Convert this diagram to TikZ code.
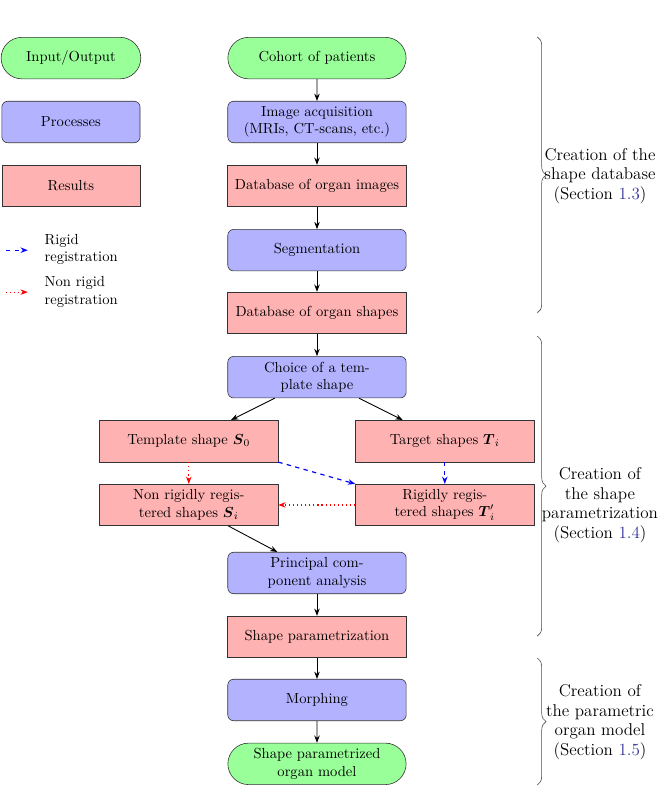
\documentclass[tikz,border=0pt]{standalone}
\usepackage{amsmath, amssymb}
\usepackage{xcolor}
\usepackage{tikz}
\usetikzlibrary{calc, shapes.misc, arrows.meta, decorations.pathreplacing}

\definecolor{seclink}{rgb}{0.2,0.2,0.6}

\begin{document}
\begin{tikzpicture}[
		iobox/.style = {rounded rectangle, draw=black!80, fill=green!40, minimum width=4.53cm, minimum height=1cm, align=center},
		procbox/.style = {rectangle, rounded corners=4pt, draw=black!80, fill=blue!30, minimum width=4.3cm, minimum height=1cm, align=center},
		resbox/.style = {rectangle, draw=black!80, fill=red!30, minimum width=4.3cm, minimum height=1cm, align=center},
		flow/.style = {-{Stealth[length=5pt]}, semithick},
		rigid/.style = {-{Stealth[length=5pt]}, thick, dashed, blue},
		nonrigid/.style = {-{Stealth[length=5pt]}, thick, dotted, red},
		bracket/.style = {decorate, decoration={brace, amplitude=6pt}, thin, black!70},
		sectxt/.style = {align=center, font=\fontsize{11.7}{13.4}\selectfont}
	]
			\def\xm{7.64};
			\def\xl{4.55};
			\def\xr{10.72};
			\def\xk{1.71};
			
			\useasboundingbox (0,0) rectangle (16,-19.04);
			
			% legend
			\node[iobox, minimum width=3.6cm] (leg-io) at (\xk,-1.40) {Input/Output};
			\node[procbox, minimum width=3.33cm] (leg-proc) at (\xk,-2.94) {Processes};
			\node[resbox, minimum width=3.33cm] (leg-res) at (\xk,-4.48) {Results};
			
			\coordinate (leg-r1) at (0.14,-6.03);
			\coordinate (leg-r2) at (0.67,-6.03);
			\draw[rigid] (leg-r1) -- (leg-r2);
			\node[anchor=west, align=left] (leg-rtxt) at (0.95,-6.01) {Rigid\\registration};
			
			\coordinate (leg-n1) at (0.14,-7.04);
			\coordinate (leg-n2) at (0.67,-7.04);
			\draw[nonrigid] (leg-n1) -- (leg-n2);
			\node[anchor=west, align=left] (leg-ntxt) at (0.95,-7.04) {Non rigid\\registration};
			
			% main chain
			\node[iobox] (cohort) at (\xm,-1.40) {Cohort of patients};
			\node[procbox] (acq) at (\xm,-2.94) {Image acquisition\\(MRIs, CT-scans, etc.)};
			\node[resbox] (dbimg) at (\xm,-4.48) {Database of organ images};
			\node[procbox] (segm) at (\xm,-6.03) {Segmentation};
			\node[resbox] (dbshape) at (\xm,-7.54) {Database of organ shapes};
			\node[procbox] (choice) at (\xm,-9.09) {Choice of a tem-\\plate shape};
			\node[resbox] (templ) at (\xl,-10.63) {Template shape $\boldsymbol{S}_0$};
			\node[resbox] (target) at (\xr,-10.63) {Target shapes $\boldsymbol{T}_i$};
			\node[resbox] (nonrig) at (\xl,-12.17) {Non rigidly regis-\\tered shapes $\boldsymbol{S}_i$};
			\node[resbox] (rig) at (\xr,-12.17) {Rigidly regis-\\tered shapes $\boldsymbol{T}_i'$};
			\node[procbox] (pca) at (\xm,-13.81) {Principal com-\\ponent analysis};
			\node[resbox] (param) at (\xm,-15.35) {Shape parametrization};
			\node[procbox] (morph) at (\xm,-16.87) {Morphing};
			\node[iobox] (model) at (\xm,-18.41) {Shape parametrized\\organ model};
			
			\draw[flow] (cohort) -- (acq);
			\draw[flow] (acq) -- (dbimg);
			\draw[flow] (dbimg) -- (segm);
			\draw[flow] (segm) -- (dbshape);
			\draw[flow] (dbshape) -- (choice);
			\draw[flow] (choice) -- (templ);
			\draw[flow] (choice) -- (target);
			\draw[nonrigid] (templ) -- (nonrig);
			\draw[rigid] (templ.south east) -- (rig.north west);
			\draw[rigid] (target) -- (rig);
			\draw[nonrigid] (rig) -- (nonrig);
			\draw[flow] (nonrig) -- (pca);
			\draw[flow] (pca) -- (param);
			\draw[flow] (param) -- (morph);
			\draw[flow] (morph) -- (model);
			
			% braces
			\coordinate (b1-top) at (12.95,-0.89);
			\coordinate (b1-bot) at (12.95,-7.54);
			\coordinate (b2-top) at (12.95,-8.10);
			\coordinate (b2-bot) at (12.95,-15.33);
			\coordinate (b3-top) at (12.95,-15.86);
			\coordinate (b3-bot) at (12.95,-18.92);
			
			\draw[bracket] (b1-top) -- (b1-bot);
			\draw[bracket] (b2-top) -- (b2-bot);
			\draw[bracket] (b3-top) -- (b3-bot);
			
			\node[sectxt] (sec1) at (14.46,-4.24) {Creation of the\\shape database\\(Section \textcolor{seclink}{1.3})};
			\node[sectxt] (sec2) at (14.46,-12.17) {Creation of\\the shape\\parametrization\\(Section \textcolor{seclink}{1.4})};
			\node[sectxt] (sec3) at (14.46,-17.40) {Creation of\\the parametric\\organ model\\(Section \textcolor{seclink}{1.5})};
		\end{tikzpicture}
\end{document}
